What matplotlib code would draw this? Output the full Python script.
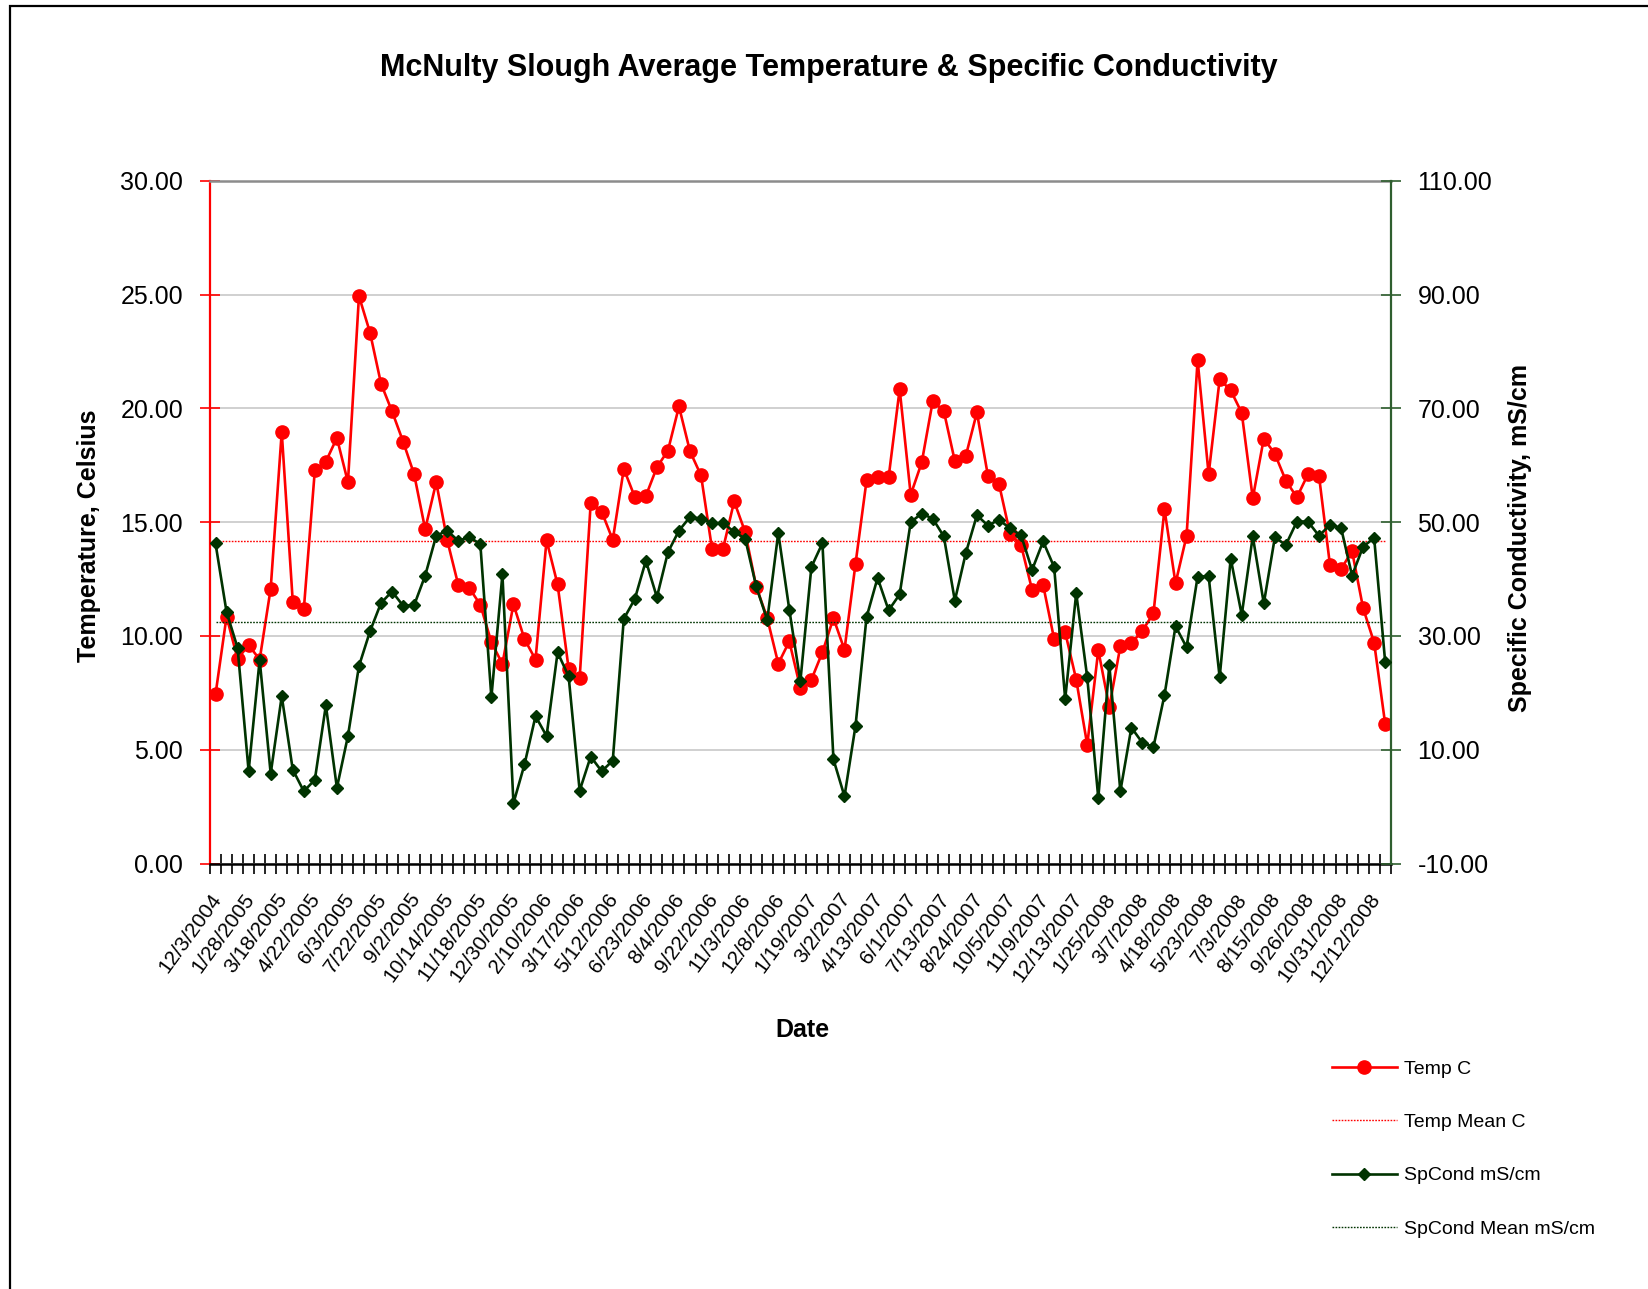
import numpy as np
import matplotlib
matplotlib.use("Agg")
import matplotlib.pyplot as plt
from matplotlib.patches import Rectangle
from matplotlib.transforms import ScaledTranslation

plt.rcParams['font.family'] = ['Liberation Sans', 'DejaVu Sans']

# ---------------- data ----------------
temp_c = [7.43, 10.85, 8.99, 9.60, 8.96, 12.08, 18.96, 11.51, 11.16, 17.27,
          17.66, 18.70, 16.75, 24.93, 23.33, 21.08, 19.86, 18.54, 17.10, 14.69,
          16.75, 14.20, 12.24, 12.10, 11.37, 9.72, 8.77, 11.39, 9.86, 8.96,
          14.20, 12.26, 8.56, 8.15, 15.83, 15.45, 14.22, 17.34, 16.10, 16.15,
          17.41, 18.14, 20.08, 18.11, 17.05, 13.81, 13.84, 15.91, 14.56, 12.17,
          10.78, 8.78, 9.76, 7.71, 8.08, 9.28, 10.78, 9.39, 13.17, 16.83,
          17.00, 16.97, 20.84, 16.20, 17.62, 20.32, 19.88, 17.68, 17.92, 19.82,
          17.03, 16.68, 14.49, 13.99, 12.03, 12.24, 9.86, 10.16, 8.08, 5.21,
          9.37, 6.87, 9.55, 9.68, 10.23, 10.99, 15.56, 12.31, 14.39, 22.12,
          17.10, 21.28, 20.79, 19.80, 16.05, 18.67, 18.00, 16.82, 16.09, 17.10,
          17.04, 13.10, 12.94, 13.72, 11.22, 9.70, 6.13]

spcond = [46.25, 34.2, 27.9, 6.25, 25.8, 5.8, 19.4, 6.5, 2.7, 4.7,
          17.8, 3.3, 12.4, 24.7, 30.8, 35.8, 37.8, 35.3, 35.4, 40.6,
          47.6, 48.5, 46.7, 47.4, 46.1, 19.2, 40.8, 0.6, 7.4, 15.9,
          12.4, 27.1, 22.9, 2.8, 8.8, 6.2, 8.1, 33.0, 36.5, 43.2,
          36.8, 44.7, 48.5, 50.9, 50.6, 49.8, 49.8, 48.3, 47.1, 38.7,
          32.8, 48.1, 34.6, 22.0, 42.1, 46.3, 8.3, 1.8, 14.2, 33.3,
          40.2, 34.5, 37.3, 50.0, 51.5, 50.6, 47.5, 36.2, 44.6, 51.2,
          49.4, 50.4, 48.9, 47.7, 41.6, 46.6, 42.1, 18.9, 37.5, 22.7,
          1.5, 24.9, 2.7, 13.9, 11.2, 10.5, 19.6, 31.7, 28.0, 40.4,
          40.5, 22.7, 43.6, 33.7, 47.5, 35.7, 47.3, 46.0, 50.1, 50.1,
          47.6, 49.5, 49.0, 40.6, 45.7, 47.2, 25.4]

temp_mean = 14.19
spcond_mean = 32.45

date_labels = ["12/3/2004", "1/28/2005", "3/18/2005", "4/22/2005", "6/3/2005",
               "7/22/2005", "9/2/2005", "10/14/2005", "11/18/2005", "12/30/2005",
               "2/10/2006", "3/17/2006", "5/12/2006", "6/23/2006", "8/4/2006",
               "9/22/2006", "11/3/2006", "12/8/2006", "1/19/2007", "3/2/2007",
               "4/13/2007", "6/1/2007", "7/13/2007", "8/24/2007", "10/5/2007",
               "11/9/2007", "12/13/2007", "1/25/2008", "3/7/2008", "4/18/2008",
               "5/23/2008", "7/3/2008", "8/15/2008", "9/26/2008", "10/31/2008",
               "12/12/2008"]
label_every = 3

title = "McNulty Slough Average Temperature & Specific Conductivity"

# ---------------- figure ----------------
W, H = 1648, 1289
fig = plt.figure(figsize=(W / 100, H / 100), dpi=100)

def fx(px):
    return px / W

def fy(py):
    return 1 - py / H

# chart border (top and left visible)
fig.patches.append(Rectangle((fx(9.5), fy(1400)), 1.2, fy(6) - fy(1400),
                             transform=fig.transFigure, fill=False,
                             edgecolor='black', linewidth=1.6))

left, right, top, bottom = 210, 1390.7, 180.7, 863.5
ax = fig.add_axes([fx(left), fy(bottom), fx(right - left), (bottom - top) / H])
ax2 = ax.twinx()

n = len(temp_c)
x = np.arange(n)
RED = '#FF0000'
GREEN = '#003300'
AXGREEN = '#2F5F2F'

l_temp, = ax.plot(x, temp_c, color=RED, lw=1.9, marker='o', ms=9.5,
                  markeredgecolor=RED, markerfacecolor=RED, zorder=3)
l_tmean, = ax.plot(x, np.full(n, temp_mean), color=RED, lw=1.0,
                   linestyle=(0, (1.2, 1.0)), zorder=2)
l_sp, = ax2.plot(x, spcond, color=GREEN, lw=1.9, marker='D', ms=6.0,
                 markeredgecolor=GREEN, markerfacecolor=GREEN, zorder=3)
l_smean, = ax2.plot(x, np.full(n, spcond_mean), color=GREEN, lw=1.0,
                    linestyle=(0, (1.2, 1.0)), zorder=2)

ax.set_xlim(-0.5, n - 0.5)
ax.set_ylim(0, 30)
ax2.set_ylim(-10, 110)

ax.set_yticks(np.arange(0, 30.1, 5))
ax.set_yticklabels([f"{v:.2f}" for v in np.arange(0, 30.1, 5)])
ax2.set_yticks(np.arange(-10, 110.1, 20))
ax2.set_yticklabels([f"{v:.2f}" for v in np.arange(-10, 110.1, 20)])

# gridlines
ax.yaxis.grid(True, color='#C8C8C8', lw=1.2)
ax.set_axisbelow(True)

# x ticks: marks at category boundaries, labels at every 3rd category
ax.set_xticks(np.arange(-0.5, n, 1))
ax.set_xticklabels([])
ax.set_xticks(x[::label_every], minor=True)
ax.set_xticklabels(date_labels, minor=True, rotation=54, ha='right',
                   va='center', rotation_mode='anchor', fontsize=15)
ax.tick_params(axis='x', which='major', direction='inout', length=14,
               width=1.2, color='black')
ax.tick_params(axis='x', which='minor', length=0, pad=23)
off = ScaledTranslation(2 / 100, 0, fig.dpi_scale_trans)
for lab in ax.get_xticklabels(minor=True):
    lab.set_transform(lab.get_transform() + off)

ax.tick_params(axis='y', direction='inout', length=14, width=1.2,
               color=RED, labelsize=18, pad=12.3)
ax2.tick_params(axis='y', direction='inout', length=14, width=1.2,
                color=AXGREEN, labelsize=18, pad=12.3)

# spines
for s in ['left', 'right', 'top', 'bottom']:
    ax2.spines[s].set_visible(False)
ax2.spines['right'].set_visible(True)
ax2.spines['right'].set_color(AXGREEN)
ax2.spines['right'].set_linewidth(1.6)
ax.spines['right'].set_visible(False)
ax.spines['left'].set_color(RED)
ax.spines['left'].set_linewidth(1.6)
ax.spines['top'].set_color('#8C8C8C')
ax.spines['top'].set_linewidth(1.8)
ax.spines['bottom'].set_color('black')
ax.spines['bottom'].set_linewidth(1.8)

# texts
fig.text(fx(828.5), fy(68), title, ha='center', va='center',
         fontsize=22, fontweight='bold')
fig.text(fx(89), fy(535.5), "Temperature, Celsius", rotation=90,
         ha='center', va='center', fontsize=18, fontweight='bold')
fig.text(fx(1520), fy(538), "Specific Conductivity, mS/cm", rotation=90,
         ha='center', va='center', fontsize=18, fontweight='bold')
fig.text(fx(802), fy(1030), "Date", ha='center', va='center',
         fontsize=18, fontweight='bold')

# legend
fig.legend(handles=[l_temp, l_tmean, l_sp, l_smean],
           labels=["Temp C", "Temp Mean C", "SpCond mS/cm", "SpCond Mean mS/cm"],
           loc='upper left', bbox_to_anchor=(fx(1331.7), fy(1060)),
           frameon=False, fontsize=14, handlelength=3.34, handletextpad=0.36,
           labelspacing=1.84, borderpad=0, borderaxespad=0)

fig.savefig("out.png", dpi=100)
